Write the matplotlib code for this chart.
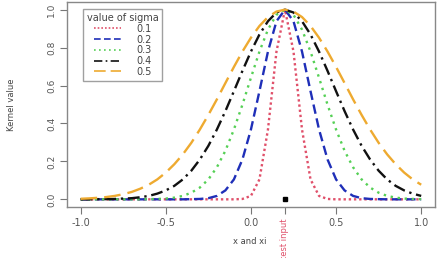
import matplotlib
matplotlib.use("Agg")
import matplotlib.pyplot as plt

# x grid (sample points) and kernel values (test point 0.2)
x_vals = [-1.00, -0.95, -0.90, -0.85, -0.80, -0.75, -0.70, -0.65, -0.60, -0.55,
          -0.50, -0.45, -0.40, -0.35, -0.30, -0.25, -0.20, -0.15, -0.10, -0.05,
          0.00, 0.05, 0.10, 0.15, 0.20, 0.25, 0.30, 0.35, 0.40, 0.45,
          0.50, 0.55, 0.60, 0.65, 0.70, 0.75, 0.80, 0.85, 0.90, 0.95, 1.00]

k_sigma_01 = [0, 0, 0, 0, 0, 0, 0, 0, 0, 0,
              0, 0, 0, 0, 0, 0, 0, 0, 0, 0.002,
              0.018, 0.105, 0.368, 0.779, 1.0, 0.779, 0.368, 0.105, 0.018, 0.002,
              0, 0, 0, 0, 0, 0, 0, 0, 0, 0, 0]
k_sigma_02 = [0, 0, 0, 0, 0, 0, 0, 0, 0, 0,
              0, 0, 0, 0.001, 0.002, 0.006, 0.018, 0.047, 0.105, 0.210,
              0.368, 0.570, 0.779, 0.939, 1.0, 0.939, 0.779, 0.570, 0.368, 0.210,
              0.105, 0.047, 0.018, 0.006, 0.002, 0.001, 0, 0, 0, 0, 0]
k_sigma_03 = [0, 0, 0, 0, 0, 0, 0, 0, 0.001, 0.002,
              0.004, 0.009, 0.018, 0.035, 0.062, 0.105, 0.169, 0.256, 0.368, 0.499,
              0.641, 0.779, 0.895, 0.973, 1.0, 0.973, 0.895, 0.779, 0.641, 0.499,
              0.368, 0.256, 0.169, 0.105, 0.062, 0.035, 0.018, 0.009, 0.004, 0.002, 0.001]
k_sigma_04 = [0, 0, 0.001, 0.001, 0.002, 0.004, 0.006, 0.011, 0.018, 0.030,
              0.047, 0.071, 0.105, 0.151, 0.210, 0.282, 0.368, 0.465, 0.570, 0.677,
              0.779, 0.869, 0.939, 0.985, 1.0, 0.985, 0.939, 0.869, 0.779, 0.677,
              0.570, 0.465, 0.368, 0.282, 0.210, 0.151, 0.105, 0.071, 0.047, 0.030, 0.018]
k_sigma_05 = [0.003, 0.005, 0.008, 0.012, 0.018, 0.027, 0.039, 0.056, 0.077, 0.105,
              0.141, 0.185, 0.237, 0.298, 0.368, 0.445, 0.527, 0.613, 0.698, 0.779,
              0.852, 0.914, 0.961, 0.990, 1.0, 0.990, 0.961, 0.914, 0.852, 0.779,
              0.698, 0.613, 0.527, 0.445, 0.368, 0.298, 0.237, 0.185, 0.141, 0.105, 0.077]

sigma_labels = ["0.1", "0.2", "0.3", "0.4", "0.5"]
test_x = 0.2

series = [k_sigma_01, k_sigma_02, k_sigma_03, k_sigma_04, k_sigma_05]
colors = ["#e0506a", "#1f2fb8", "#55d055", "#111111", "#eeaa30"]
styles = [(0, (1, 1.2)), (0, (4, 2)), (0, (1, 2)), (0, (5, 2, 1, 2)), (0, (7, 3))]

fig = plt.figure(figsize=(4.41, 2.58), dpi=100)
ax = fig.add_axes([0.152, 0.198, 0.834, 0.794])

for ys, c, ls, lab in zip(series, colors, styles, sigma_labels):
    ax.plot(x_vals, ys, color=c, linestyle=ls, lw=1.7, label=lab)

ax.plot([test_x], [0], marker="s", color="black", markersize=2.5, linestyle="none")

ax.set_xlim(-1.08, 1.08)
ax.set_ylim(-0.04, 1.04)

tick_col = "#555555"
ax.set_xticks([-1.0, -0.5, 0.0, 0.5, 1.0, test_x])
ax.set_xticklabels(["-1.0", "-0.5", "0.0", "0.5", "1.0", "test input"])
for lbl in ax.get_xticklabels():
    lbl.set_fontsize(7)
    lbl.set_color(tick_col)
tl = ax.get_xticklabels()[-1]
tl.set_color("#e0506a")
tl.set_rotation(90)
tl.set_fontsize(6)
tl.set_va("top")

ax.set_yticks([0.0, 0.2, 0.4, 0.6, 0.8, 1.0])
ax.set_yticklabels(["0.0", "0.2", "0.4", "0.6", "0.8", "1.0"], rotation=90, va="center",
                   fontsize=6.5, color=tick_col)
ax.tick_params(axis="both", direction="out", length=5, width=0.8, color="#777777", pad=3)

for sp in ax.spines.values():
    sp.set_color("#888888")
    sp.set_linewidth(1.0)

fig.text(250 / 441, 1 - 242 / 258, "x and xi", ha="center", va="center", fontsize=6, color="#444444")
fig.text(12 / 441, 1 - 105 / 258, "Kernel value", ha="center", va="center", rotation=90,
         fontsize=6, color="#444444")

leg = ax.legend(title="value of sigma", loc="upper left", bbox_to_anchor=(0.035, 0.98),
                fontsize=7, title_fontsize=7, frameon=True, fancybox=False,
                handlelength=2.8, handletextpad=1.6, labelspacing=0.08, borderpad=0.4,
                borderaxespad=0.3)
leg.get_frame().set_edgecolor("#888888")
leg.get_frame().set_linewidth(1.0)
for line in leg.get_lines():
    line.set_linewidth(1.2)
for t in leg.get_texts():
    t.set_color("#444444")
leg.get_title().set_color("#444444")

fig.savefig("out.png", dpi=100)
